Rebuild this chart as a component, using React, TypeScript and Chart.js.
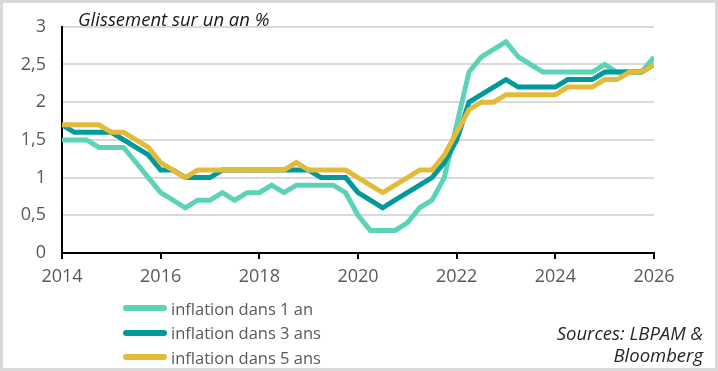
import React, { useEffect, useRef } from "react";
import { Chart, registerables } from "chart.js";

Chart.register(...registerables);

const quarters = [
  2014, 2014.25, 2014.5, 2014.75,
  2015, 2015.25, 2015.5, 2015.75,
  2016, 2016.25, 2016.5, 2016.75,
  2017, 2017.25, 2017.5, 2017.75,
  2018, 2018.25, 2018.5, 2018.75,
  2019, 2019.25, 2019.5, 2019.75,
  2020, 2020.25, 2020.5, 2020.75,
  2021, 2021.25, 2021.5, 2021.75,
  2022, 2022.25, 2022.5, 2022.75,
  2023, 2023.25, 2023.5, 2023.75,
  2024, 2024.25, 2024.5, 2024.75,
  2025, 2025.25, 2025.5, 2025.75,
  2026,
];

const inflation1an = [
  1.5, 1.5, 1.5, 1.4,
  1.4, 1.4, 1.2, 1.0,
  0.8, 0.7, 0.6, 0.7,
  0.7, 0.8, 0.7, 0.8,
  0.8, 0.9, 0.8, 0.9,
  0.9, 0.9, 0.9, 0.8,
  0.5, 0.3, 0.3, 0.3,
  0.4, 0.6, 0.7, 1.0,
  1.7, 2.4, 2.6, 2.7,
  2.8, 2.6, 2.5, 2.4,
  2.4, 2.4, 2.4, 2.4,
  2.5, 2.4, 2.4, 2.4,
  2.6,
];

const inflation3ans = [
  1.7, 1.6, 1.6, 1.6,
  1.6, 1.5, 1.4, 1.3,
  1.1, 1.1, 1.0, 1.0,
  1.0, 1.1, 1.1, 1.1,
  1.1, 1.1, 1.1, 1.1,
  1.1, 1.0, 1.0, 1.0,
  0.8, 0.7, 0.6, 0.7,
  0.8, 0.9, 1.0, 1.2,
  1.5, 2.0, 2.1, 2.2,
  2.3, 2.2, 2.2, 2.2,
  2.2, 2.3, 2.3, 2.3,
  2.4, 2.4, 2.4, 2.4,
  2.5,
];

const inflation5ans = [
  1.7, 1.7, 1.7, 1.7,
  1.6, 1.6, 1.5, 1.4,
  1.2, 1.1, 1.0, 1.1,
  1.1, 1.1, 1.1, 1.1,
  1.1, 1.1, 1.1, 1.2,
  1.1, 1.1, 1.1, 1.1,
  1.0, 0.9, 0.8, 0.9,
  1.0, 1.1, 1.1, 1.3,
  1.6, 1.9, 2.0, 2.0,
  2.1, 2.1, 2.1, 2.1,
  2.1, 2.2, 2.2, 2.2,
  2.3, 2.3, 2.4, 2.4,
  2.5,
];

const seriesNames = ["inflation dans 1 an", "inflation dans 3 ans", "inflation dans 5 ans"];
const seriesColors = ["#5cd3b7", "#009a9c", "#e3bb3b"];
const seriesValues = [inflation1an, inflation3ans, inflation5ans];

const titleText = "Glissement sur un an %";
const sourceLines = ["Sources: LBPAM &", "Bloomberg"];

const FONT = "'Open Sans', 'Noto Sans', sans-serif";

export default function App() {
  const canvasRef = useRef<HTMLCanvasElement | null>(null);

  useEffect(() => {
    const canvas = canvasRef.current;
    if (!canvas) return;
    const datasets = seriesValues.map((vals, i) => ({
      label: seriesNames[i],
      data: quarters.map((q, j) => ({ x: q, y: vals[j] })),
      borderColor: seriesColors[i],
      backgroundColor: seriesColors[i],
      borderWidth: 5,
      pointRadius: 0,
      tension: 0,
      borderJoinStyle: "miter" as const,
      borderCapStyle: "butt" as const,
      order: 3 - i,
    }));
    const chart = new Chart(canvas, {
      type: "line",
      data: { datasets },
      options: {
        animation: false,
        responsive: false,
        devicePixelRatio: 1,
        layout: { padding: { left: 0, right: 64, top: 26, bottom: 0 } },
        plugins: { legend: { display: false }, tooltip: { enabled: false } },
        scales: {
          x: {
            type: "linear",
            min: 2014,
            max: 2026,
            afterFit: (s: any) => { s.height = 118; },
            ticks: {
              stepSize: 2,
              padding: 7,
              color: "#595959",
              font: { family: FONT, size: 18 },
              callback: (v: any) => String(v),
            },
            grid: {
              drawOnChartArea: false,
              drawTicks: true,
              tickLength: 6,
              color: "#000000",
              lineWidth: 2,
            },
            border: { display: true, color: "#000000", width: 2 },
          },
          y: {
            min: 0,
            max: 3,
            afterFit: (s: any) => { s.width = 62; },
            ticks: {
              stepSize: 0.5,
              padding: 16,
              color: "#595959",
              font: { family: FONT, size: 18 },
              callback: (v: any) => String(v).replace(".", ","),
            },
            grid: { drawTicks: false, color: "#d9d9d9", lineWidth: 2 },
            border: { display: true, color: "#000000", width: 2 },
          },
        },
      },
    });
    return () => chart.destroy();
  }, []);

  return (
    <div style={{ position: "fixed", left: 0, top: 0, width: 718, height: 371, background: "#fff", fontFamily: FONT, overflow: "hidden" }}>
      <canvas ref={canvasRef} width={718} height={371} style={{ position: "absolute", left: 0, top: 0, width: 718, height: 371 }} />
      <div style={{ position: "absolute", left: 78, top: 6, fontSize: 18.5, fontStyle: "italic", color: "#1a1a1a", lineHeight: "26px", whiteSpace: "nowrap" }}>
        {titleText}
      </div>
      {seriesNames.map((name, i) => (
        <div key={name} style={{ position: "absolute", left: 123, top: 296 + i * 24.5, height: 24, display: "flex", alignItems: "center", whiteSpace: "nowrap" }}>
          <span style={{ display: "inline-block", width: 44, height: 6, borderRadius: 3, background: seriesColors[i], marginRight: 4 }} />
          <span style={{ fontSize: 16.5, color: "#595959" }}>{name}</span>
        </div>
      ))}
      <div style={{ position: "absolute", right: 15, top: 322, textAlign: "right", fontSize: 18.5, fontStyle: "italic", color: "#262626", lineHeight: "22px", whiteSpace: "nowrap" }}>
        {sourceLines.map((l) => (<div key={l}>{l}</div>))}
      </div>
      <div style={{ position: "absolute", left: 0, top: 0, width: 718, height: 371, boxSizing: "border-box", border: "3px solid #d9d9d9", pointerEvents: "none" }} />
    </div>
  );
}
